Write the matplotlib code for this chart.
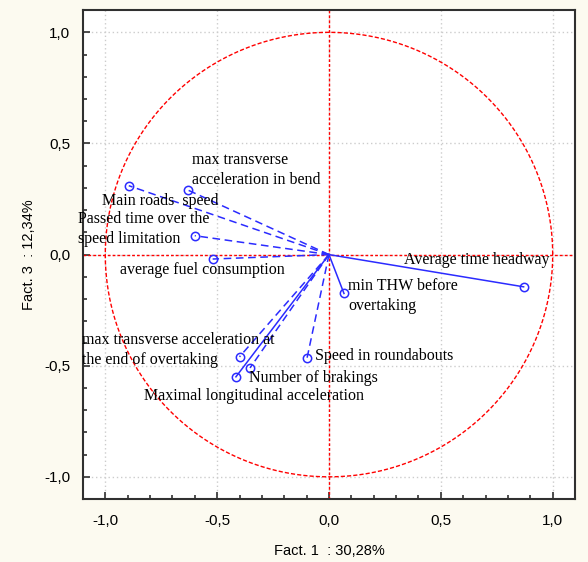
import numpy as np
import matplotlib
matplotlib.use("Agg")
import matplotlib.pyplot as plt
from matplotlib.ticker import MultipleLocator, FuncFormatter

# variable loadings (Fact. 1, Fact. 3)
names = ["Main roads  speed",
         "max transverse\nacceleration in bend",
         "Passed time over the\nspeed limitation",
         "average fuel consumption",
         "Average time headway",
         "min THW before\novertaking",
         "Speed in roundabouts",
         "max transverse acceleration at\nthe end of overtaking",
         "Number of brakings",
         "Maximal longitudinal acceleration"]
f1 = [-0.895, -0.63, -0.60, -0.52, 0.87, 0.067, -0.098, -0.40, -0.353, -0.416]
f3 = [0.31, 0.29, 0.085, -0.02, -0.145, -0.175, -0.465, -0.46, -0.51, -0.55]
solid = [False, False, False, False, True, True, False, False, False, True]

# label anchors (left, top) in data coords
lab_x = [-1.016, -0.613, -1.12, -0.935, 0.336, 0.085, -0.063, -1.106, -0.358, -0.828]
lab_y = [0.275, 0.46, 0.195, -0.035, 0.01, -0.105, -0.42, -0.35, -0.52, -0.60]

bg = "#fcfaf0"
blue = "#2b2bff"

fig = plt.figure(figsize=(5.88, 5.62), dpi=100, facecolor=bg)
ax = fig.add_axes([0.141, 0.112, 0.837, 0.870])
ax.set_facecolor("white")

t = np.linspace(0, 2 * np.pi, 400)
ax.plot(np.cos(t), np.sin(t), color="red", lw=1, ls=(0, (3, 1.5)), zorder=2)
ax.axhline(0, color="red", lw=1, ls=(0, (2, 1.5)), zorder=2)
ax.axvline(0, color="red", lw=1, ls=(0, (2, 1.5)), zorder=2)

for i in range(len(names)):
    ls = "-" if solid[i] else (0, (5, 3))
    ax.plot([0, f1[i]], [0, f3[i]], color=blue, lw=1.1, ls=ls, zorder=3)
    ax.plot(f1[i], f3[i], "o", mfc="none", mec=blue, ms=6, mew=1.1, zorder=4)
    ax.text(lab_x[i], lab_y[i], names[i], fontsize=11.5, family="Liberation Serif",
            va="top", ha="left", color="black", linespacing=1.32, zorder=5)

ax.set_xlim(-1.1, 1.1)
ax.set_ylim(-1.1, 1.1)
ax.xaxis.set_major_locator(MultipleLocator(0.5))
ax.yaxis.set_major_locator(MultipleLocator(0.5))
ax.xaxis.set_minor_locator(MultipleLocator(0.1))
ax.yaxis.set_minor_locator(MultipleLocator(0.1))
fmt = FuncFormatter(lambda v, p: ("%.1f" % v).replace(".", ","))
ax.xaxis.set_major_formatter(fmt)
ax.yaxis.set_major_formatter(fmt)
ax.tick_params(which="both", direction="in", color="#303030", width=1.2)
ax.tick_params(which="major", length=5, labelsize=11)
ax.tick_params(axis="x", which="major", pad=11)
ax.tick_params(axis="y", which="major", pad=9)
ax.tick_params(which="minor", length=3)
for lab in ax.get_xticklabels() + ax.get_yticklabels():
    lab.set_family("Liberation Sans")
ax.grid(True, which="major", color="#cccccc", ls=(0, (1, 2)), lw=1)
for s in ax.spines.values():
    s.set_color("#303030")
    s.set_linewidth(1.5)

ax.set_xlabel("Fact. 1  : 30,28%", fontsize=10.5, family="Liberation Sans", labelpad=11)
ax.set_ylabel("Fact. 3  : 12,34%", fontsize=10.5, family="Liberation Sans", labelpad=6)

fig.savefig("out.png", dpi=100, facecolor=bg)
